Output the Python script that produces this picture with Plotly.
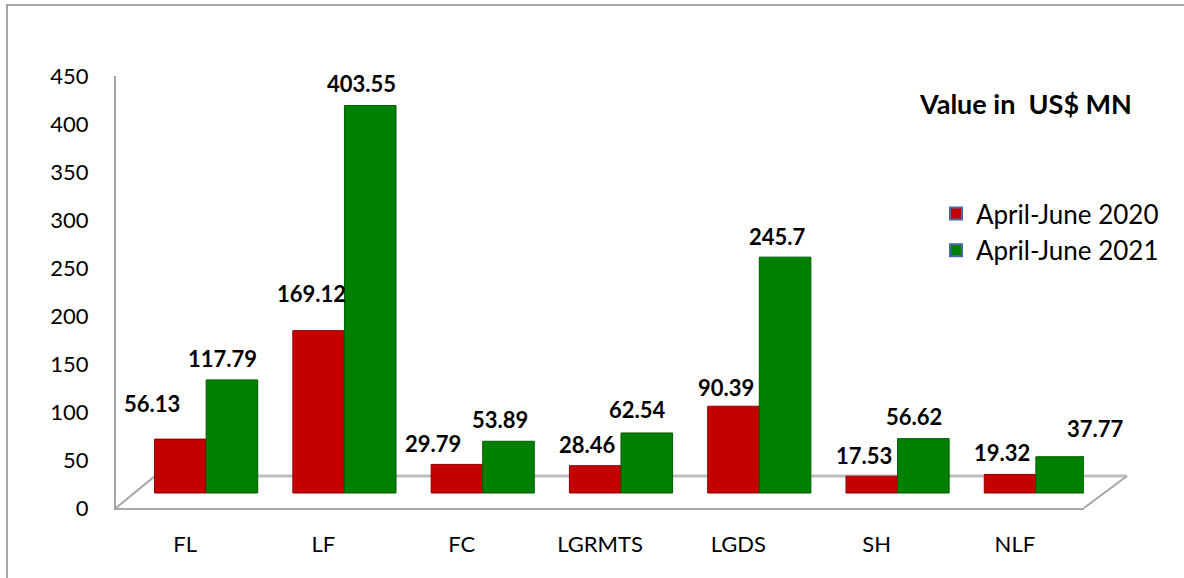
import plotly.graph_objects as go

categories = ["FL", "LF", "FC", "LGRMTS", "LGDS", "SH", "NLF"]
values_2020 = [56.13, 169.12, 29.79, 28.46, 90.39, 17.53, 19.32]
values_2021 = [117.79, 403.55, 53.89, 62.54, 245.7, 56.62, 37.77]
series_names = ["April-June 2020", "April-June 2021"]
y_ticks = [0, 50, 100, 150, 200, 250, 300, 350, 400, 450]

# label placement style (pixel nudges: dx, dy above bar top)
label_nudge_2020 = [(-28, 36), (-7, 37), (-24, 21), (-8, 21), (-8, 19), (-8, 21), (-8, 22)]
label_nudge_2021 = [(-9, 21), (-9, 22), (-9, 22), (-9, 23), (-8, 21), (-9, 22), (34, 28)]

RED = "#C40000"
GREEN = "#008000"
FONT = "Lato"

W, H = 1184, 578
L, R, T, B = 116, 100, 76, 70
pw, ph = W - L - R, H - T - B
BARGAP = 0.254


def px(x):
    return (x - L) / pw


def py(y):
    return (H - B - y) / ph


fig = go.Figure()
for name, vals, col, edge in [(series_names[0], values_2020, RED, "#8E0000"),
                              (series_names[1], values_2021, GREEN, "#005A00")]:
    fig.add_trace(go.Bar(
        x=categories, y=vals, name=name, marker=dict(color=col, line=dict(width=1, color=edge)),
        xaxis="x2", yaxis="y2", showlegend=False, hoverinfo="skip",
    ))
# legend entries
for name, col in [(series_names[0], RED), (series_names[1], GREEN)]:
    fig.add_trace(go.Bar(x=[None], y=[None], name=name,
                         marker=dict(color=col, line=dict(color="#4A6AA5", width=2)),
                         xaxis="x", yaxis="y"))

shift_px = 21
shift_cat = shift_px / (pw / 7)
lift = 15 * 450 / ph
half_w = (1 - BARGAP) / 4  # half of one bar width, in category units

annotations = []
for i, cat in enumerate(categories):
    for vals, nudges, sign in [(values_2020, label_nudge_2020, -1), (values_2021, label_nudge_2021, 1)]:
        dx, dy = nudges[i]
        annotations.append(dict(
            x=i + sign * half_w, y=vals[i], xref="x2", yref="y2",
            text=f"<b>{vals[i]:g}</b>", showarrow=False,
            xanchor="center", yanchor="middle", xshift=dx, yshift=dy,
            font=dict(family=FONT, size=22, color="black"),
        ))
annotations.append(dict(text="<b>Value in  US$ MN</b>", xref="paper", yref="paper",
                        x=px(1025), y=py(104), xanchor="center", yanchor="middle",
                        showarrow=False, font=dict(size=27, family=FONT, color="black")))

fig.update_layout(
    width=W, height=H, margin=dict(l=L, r=R, t=T, b=B, autoexpand=False),
    paper_bgcolor="white", plot_bgcolor="white",
    barmode="group", bargap=BARGAP, bargroupgap=0,
    font=dict(family=FONT, size=22, color="black"),
    hovermode=False,
    xaxis=dict(type="category", categoryarray=categories, range=[-0.5, 6.5],
               showgrid=False, showline=True, linecolor="#A6A6A6", linewidth=2,
               ticks="", ticklabelstandoff=16, tickfont=dict(size=22), zeroline=False),
    yaxis=dict(range=[0, 450], tickvals=y_ticks, showgrid=False, showline=True,
               linecolor="#A6A6A6", linewidth=2, ticks="", ticklabelstandoff=21,
               tickfont=dict(size=22), zeroline=False),
    xaxis2=dict(type="category", categoryarray=categories, overlaying="x",
                range=[-0.5 - shift_cat, 6.5 - shift_cat], visible=False),
    yaxis2=dict(overlaying="y", range=[-lift, 450 - lift], visible=False),
    legend=dict(x=px(936), y=py(190), xanchor="left", yanchor="top",
                font=dict(size=26, family=FONT), bgcolor="rgba(0,0,0,0)",
                itemwidth=30, tracegroupgap=0),
    annotations=annotations,
    shapes=[
        # floor (3D base)
        dict(type="line", xref="paper", yref="paper", x0=px(155), y0=py(476), x1=px(1127), y1=py(476),
             line=dict(color="#BDBDBD", width=3), layer="below"),
        dict(type="line", xref="paper", yref="paper", x0=px(116), y0=py(508), x1=px(155), y1=py(476),
             line=dict(color="#A6A6A6", width=2), layer="below"),
        dict(type="line", xref="paper", yref="paper", x0=px(1084), y0=py(508), x1=px(1127), y1=py(476),
             line=dict(color="#A6A6A6", width=2), layer="below"),
        # outer frame
        dict(type="rect", xref="paper", yref="paper", x0=px(7), y0=py(600), x1=px(1200), y1=py(5),
             line=dict(color="#A6A6A6", width=2), layer="below"),
    ],
)

fig.write_html("out.html", config={"displayModeBar": False},
               post_script="document.body.style.margin='0px';")
